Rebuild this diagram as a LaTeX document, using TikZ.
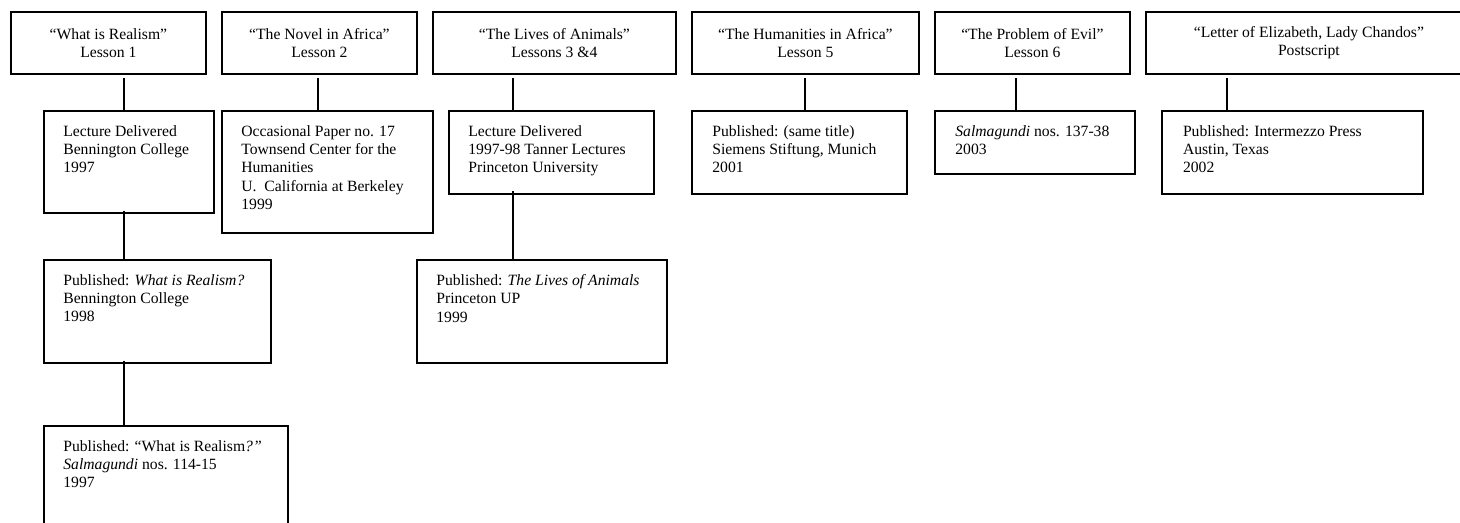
\documentclass[tikz,border=0pt]{standalone}
\usepackage{fontspec}
\setmainfont{Liberation Serif}
\usetikzlibrary{positioning}
\def\px{0.6pt}

\begin{document}
\begin{tikzpicture}[x=0.6pt, y=-0.6pt, font=\fontsize{9.4}{11}\selectfont]
\tikzstyle{box}=[draw, line width=1.1pt, inner sep=0, anchor=north west]
\tikzstyle{ttl}=[box, minimum height=62*\px, align=center]
\tikzstyle{txt}=[inner sep=0, align=left]
\tikzstyle{link}=[line width=1.1pt]
\useasboundingbox (0,0) rectangle (1460,523);
\clip (0,0) rectangle (1460,523);
% lessons
\node[ttl, minimum width=195*\px] (t1) at (10,11) {“What is Realism”\\Lesson 1};
\node[ttl, minimum width=195*\px] (t2) at (221,11) {“The Novel in Africa”\\Lesson 2};
\node[ttl, minimum width=243*\px] (t3) at (432,11) {“The Lives of Animals”\\Lessons 3 \&4};
\node[ttl, minimum width=227*\px] (t4) at (691,11) {“The Humanities in Africa”\\Lesson 5};
\node[ttl, minimum width=195*\px] (t5) at (934,11) {“The Problem of Evil”\\Lesson 6};
\node[ttl, minimum width=326*\px] (t6) at (1145,11) {“Letter of Elizabeth, Lady Chandos”\\Postscript};
% versions
\node[box, minimum width=170*\px, minimum height=102*\px] (a) at (43,110) {};
\node[box, minimum width=211*\px, minimum height=122*\px] (b) at (221,110) {};
\node[box, minimum width=205*\px, minimum height=83*\px] (c) at (448,110) {};
\node[box, minimum width=215*\px, minimum height=83*\px] (d) at (691,110) {};
\node[box, minimum width=200*\px, minimum height=63*\px] (e) at (934,110) {};
\node[box, minimum width=261*\px, minimum height=83*\px] (f) at (1161,110) {};
\node[box, minimum width=227*\px, minimum height=103*\px] (g) at (43,259) {};
\node[box, minimum width=250*\px, minimum height=103*\px] (h) at (416,259) {};
\node[box, minimum width=244*\px, minimum height=140*\px] (i) at (43,425) {};
\node[txt, below right=9pt and 12pt of a.north west] (atx) {Lecture Delivered\\Bennington College\\1997};
\node[txt, below right=9pt and 12pt of b.north west] (btx) {Occasional Paper no. 17\\Townsend Center for the\\Humanities\\U.\ \ California at Berkeley\\1999};
\node[txt, below right=9pt and 12pt of c.north west] (ctx) {Lecture Delivered\\1997-98 Tanner Lectures\\Princeton University};
\node[txt, below right=9pt and 12.6pt of d.north west] (dtx) {Published: (same title)\\Siemens Stiftung, Munich\\2001};
\node[txt, below right=9pt and 12.6pt of e.north west] (etx) {\textit{Salmagundi} nos. 137-38\\2003};
\node[txt, below right=9pt and 13pt of f.north west] (ftx) {Published: Intermezzo Press\\Austin, Texas\\2002};
\node[txt, below right=9pt and 12pt of g.north west] (gtx) {Published: \textit{What is Realism?}\\Bennington College\\1998};
\node[txt, below right=9pt and 12pt of h.north west] (htx) {Published: \textit{The Lives of Animals}\\Princeton UP\\1999};
\node[txt, below right=9pt and 12pt of i.north west] (itx) {Published: “What is Realism\textit{?”}\\\textit{Salmagundi} nos. 114-15\\1997};
\foreach \x/\p/\q in {124/t1/a, 318/t2/b, 513/t3/c, 805/t4/d, 1016/t5/e, 1227/t6/f}{
	\draw[link, shorten <=2pt] (\p.south -| \x,0) -- (\q.north -| \x,0);}
\foreach \x/\p/\q in {124/a/g, 513/c/h, 124/g/i}{
	\draw[link, shorten <=-2pt] (\p.south -| \x,0) -- (\q.north -| \x,0);}
\end{tikzpicture}
\end{document}
